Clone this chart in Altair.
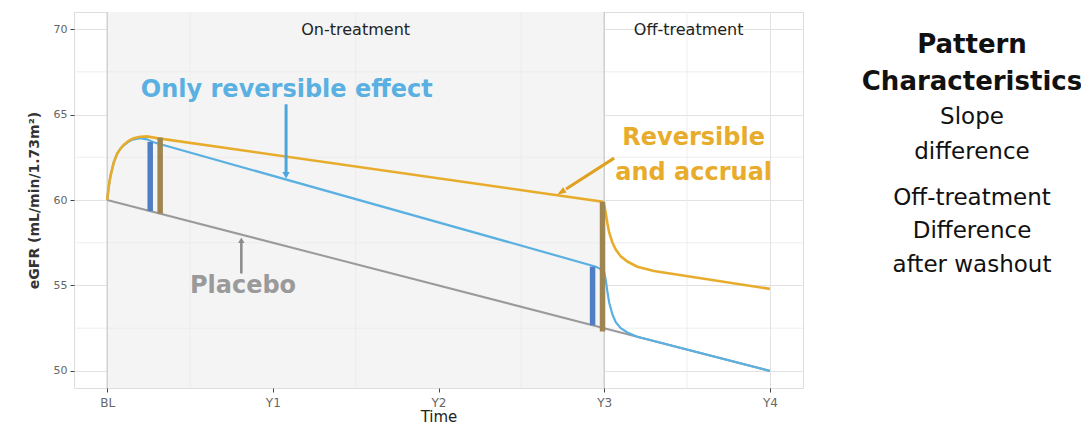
import altair as alt
import pandas as pd

# ---------------- data ----------------
placebo_time = [0, 3, 4]
placebo_egfr = [60, 52.5, 50]

rev_time = [0, 0.01, 0.02, 0.04, 0.06, 0.08, 0.1, 0.13, 0.16, 0.2, 0.24, 0.28, 2.95,
            2.97, 3.0, 3.01, 3.02, 3.03, 3.05, 3.07, 3.1, 3.14, 3.2, 4.0]
rev_egfr = [60, 60.8, 61.4, 62.2, 62.7, 63.0, 63.2, 63.42, 63.55, 63.62, 63.55, 63.38, 56.1,
            56.0, 55.8, 55.3, 54.6, 54.0, 53.3, 52.85, 52.5, 52.25, 52.0, 50.0]

acc_time = [0, 0.01, 0.02, 0.04, 0.06, 0.08, 0.1, 0.13, 0.16, 0.2, 0.24, 0.3, 2.99,
            3.0, 3.01, 3.02, 3.03, 3.05, 3.07, 3.1, 3.14, 3.2, 3.3, 4.0]
acc_egfr = [60, 60.8, 61.4, 62.2, 62.7, 63.0, 63.22, 63.46, 63.62, 63.7, 63.72, 63.62, 59.9,
            59.7, 59.2, 58.6, 58.1, 57.5, 57.1, 56.7, 56.4, 56.1, 55.85, 54.8]

bar_time = [0.26, 0.32, 2.93, 2.99]
bar_low = [59.35, 59.2, 52.67, 52.3]
bar_high = [63.4, 63.65, 56.1, 59.9]
bar_group = ["reversible", "accrual", "reversible", "accrual"]

tick_values = [0, 1, 2, 3, 4]
tick_labels = ["BL", "Y1", "Y2", "Y3", "Y4"]
y_ticks = [50, 55, 60, 65, 70]
x_minor = [0.5, 1.5, 2.5, 3.5]
y_minor = [52.5, 57.5, 62.5, 67.5]
phase_lines = [0, 3]

phase_labels = ["On-treatment", "Off-treatment"]
phase_label_time = [1.5, 3.51]
phase_label_egfr = [69.95, 69.95]

side_text = ["Slope", "difference", "Off-treatment", "Difference", "after washout"]
side_egfr = [64.85, 62.8, 60.11, 58.18, 56.19]
side_head = ["Pattern", "Characteristics"]
side_head_egfr = [69.06, 66.9]
side_time = 5.22

BLUE = "#5bb0e2"
ORANGE = "#e8ac2c"
GRAY = "#9a9a9a"
FONT = "DejaVu Sans"

# arrow head pointing down-left (unit symbol path)
ARROW_DL = "M-0.843,0.538L0.802,0.141L0.210,-0.787Z"

X = alt.Scale(domain=[-0.2, 4.2], nice=False, zero=False)
Y = alt.Scale(domain=[49, 71], nice=False, zero=False)

label_expr = "{" + ",".join(f"'{v}':'{l}'" for v, l in zip(tick_values, tick_labels)) + "}[datum.value]"

# ---------------- layers ----------------
shade = alt.Chart(pd.DataFrame({"a": [0], "b": [3]})).mark_rect(color="#f4f4f4").encode(
    x=alt.X("a:Q", scale=X), x2="b:Q", y=alt.value(0), y2=alt.value(376)
)

minor_x = alt.Chart(pd.DataFrame({"t": x_minor})).mark_rule(color="#eaeaea", strokeWidth=0.8).encode(
    x=alt.X("t:Q", scale=X)
)
minor_y = alt.Chart(pd.DataFrame({"v": y_minor})).mark_rule(color="#eaeaea", strokeWidth=0.8).encode(
    y=alt.Y("v:Q", scale=Y)
)
phase = alt.Chart(pd.DataFrame({"t": phase_lines})).mark_rule(color="#c9c9c9", strokeWidth=1.2).encode(
    x=alt.X("t:Q", scale=X)
)

axes_layer = alt.Chart(pd.DataFrame({"t": [0], "v": [60]})).mark_point(opacity=0).encode(
    x=alt.X(
        "t:Q", scale=X, title="Time",
        axis=alt.Axis(values=tick_values, labelExpr=label_expr, grid=True, gridColor="#e2e2e2",
                      tickColor="#444", tickSize=4, labelColor="#666", labelFont=FONT, labelFontSize=12,
                      titleFont=FONT, titleFontSize=15, titleFontWeight="normal", titleColor="#222",
                      domain=False, labelPadding=5, titlePadding=1),
    ),
    y=alt.Y(
        "v:Q", scale=Y, title="eGFR (mL/min/1.73m²)",
        axis=alt.Axis(values=y_ticks, grid=True, gridColor="#e2e2e2", tickColor="#444", tickSize=4,
                      labelColor="#666", labelFont=FONT, labelFontSize=11, titleFont=FONT,
                      titleFontSize=14, titleFontWeight="bold", titleColor="#333", domain=False,
                      labelPadding=3, titlePadding=12),
    ),
)

placebo = alt.Chart(pd.DataFrame({"t": placebo_time, "v": placebo_egfr})).mark_line(
    color=GRAY, strokeWidth=2
).encode(x=alt.X("t:Q", scale=X), y=alt.Y("v:Q", scale=Y))

rev = alt.Chart(pd.DataFrame({"t": rev_time, "v": rev_egfr})).mark_line(
    color=BLUE, strokeWidth=2.2
).encode(x=alt.X("t:Q", scale=X), y=alt.Y("v:Q", scale=Y))

acc = alt.Chart(pd.DataFrame({"t": acc_time, "v": acc_egfr})).mark_line(
    color=ORANGE, strokeWidth=2.6
).encode(x=alt.X("t:Q", scale=X), y=alt.Y("v:Q", scale=Y))

bars = alt.Chart(pd.DataFrame({"t": bar_time, "lo": bar_low, "hi": bar_high, "g": bar_group})).mark_rule(
    strokeWidth=5.5
).encode(
    x=alt.X("t:Q", scale=X), y=alt.Y("lo:Q", scale=Y), y2="hi:Q",
    color=alt.Color("g:N", scale=alt.Scale(domain=["reversible", "accrual"], range=["#4f7ec4", "#9e8552"]),
                    legend=None),
)

# arrows
blue_shaft = alt.Chart(pd.DataFrame({"t": [1.08], "a": [65.6], "b": [61.6]})).mark_rule(
    color="#4aa6dc", strokeWidth=3
).encode(x=alt.X("t:Q", scale=X), y=alt.Y("a:Q", scale=Y), y2="b:Q")
blue_head = alt.Chart(pd.DataFrame({"t": [1.08], "v": [61.45]})).mark_point(
    shape="triangle-down", filled=True, color="#4aa6dc", size=55, opacity=1
).encode(x=alt.X("t:Q", scale=X), y=alt.Y("v:Q", scale=Y))

gray_shaft = alt.Chart(pd.DataFrame({"t": [0.81], "a": [55.7], "b": [57.5]})).mark_rule(
    color="#8a8a8a", strokeWidth=2.5
).encode(x=alt.X("t:Q", scale=X), y=alt.Y("a:Q", scale=Y), y2="b:Q")
gray_head = alt.Chart(pd.DataFrame({"t": [0.81], "v": [57.65]})).mark_point(
    shape="triangle-up", filled=True, color="#8a8a8a", size=40, opacity=1
).encode(x=alt.X("t:Q", scale=X), y=alt.Y("v:Q", scale=Y))

orange_shaft = alt.Chart(pd.DataFrame({"t": [3.06, 2.77], "v": [62.45, 60.65]})).mark_line(
    color="#e0a020", strokeWidth=3
).encode(x=alt.X("t:Q", scale=X), y=alt.Y("v:Q", scale=Y))
orange_head = alt.Chart(pd.DataFrame({"t": [2.745], "v": [60.48]})).mark_point(
    shape=ARROW_DL, filled=True, color="#e0a020", size=130, opacity=1, strokeWidth=0
).encode(x=alt.X("t:Q", scale=X), y=alt.Y("v:Q", scale=Y))

# text annotations
def label(txt, t, v, color, size, weight="bold", font=FONT):
    return alt.Chart(pd.DataFrame({"t": [t], "v": [v], "s": [txt]})).mark_text(
        color=color, fontSize=size, fontWeight=weight, font=font, align="center", baseline="middle"
    ).encode(x=alt.X("t:Q", scale=X), y=alt.Y("v:Q", scale=Y), text="s:N")

txt_rev = label("Only reversible effect", 1.084, 66.43, BLUE, 24)
txt_pla = label("Placebo", 0.82, 54.95, "#9a9a9a", 24)
txt_acc1 = label("Reversible", 3.54, 63.62, ORANGE, 24)
txt_acc2 = label("and accrual", 3.54, 61.57, ORANGE, 24)

phase_txt = alt.Chart(pd.DataFrame({"t": phase_label_time, "v": phase_label_egfr, "s": phase_labels})).mark_text(
    color="#222", fontSize=16, font=FONT, align="center", baseline="middle"
).encode(x=alt.X("t:Q", scale=X), y=alt.Y("v:Q", scale=Y), text="s:N")

side_h = alt.Chart(pd.DataFrame({"v": side_head_egfr, "s": side_head, "t": [side_time] * 2})).mark_text(
    color="#111", fontSize=26, fontWeight="bold", font=FONT, align="center", baseline="middle", clip=False
).encode(x=alt.X("t:Q", scale=X), y=alt.Y("v:Q", scale=Y), text="s:N")

side_b = alt.Chart(pd.DataFrame({"v": side_egfr, "s": side_text, "t": [side_time] * 5})).mark_text(
    color="#111", fontSize=23, font=FONT, align="center", baseline="middle", clip=False
).encode(x=alt.X("t:Q", scale=X), y=alt.Y("v:Q", scale=Y), text="s:N")

chart = alt.layer(
    shade, axes_layer, minor_x, minor_y, phase,
    placebo, rev, acc, bars,
    blue_shaft, blue_head, gray_shaft, gray_head, orange_shaft, orange_head,
    txt_rev, txt_pla, txt_acc1, txt_acc2, phase_txt, side_h, side_b,
).properties(
    width=729, height=376,
    autosize=alt.AutoSizeParams(type="none"),
    padding={"left": 66, "top": 4, "right": 278, "bottom": 38},
).configure_view(
    stroke="#8c8c8c", strokeWidth=1.5, fill="white"
).configure(background="white")

chart.save("out.html", embed_options={"renderer": "svg", "actions": False})
